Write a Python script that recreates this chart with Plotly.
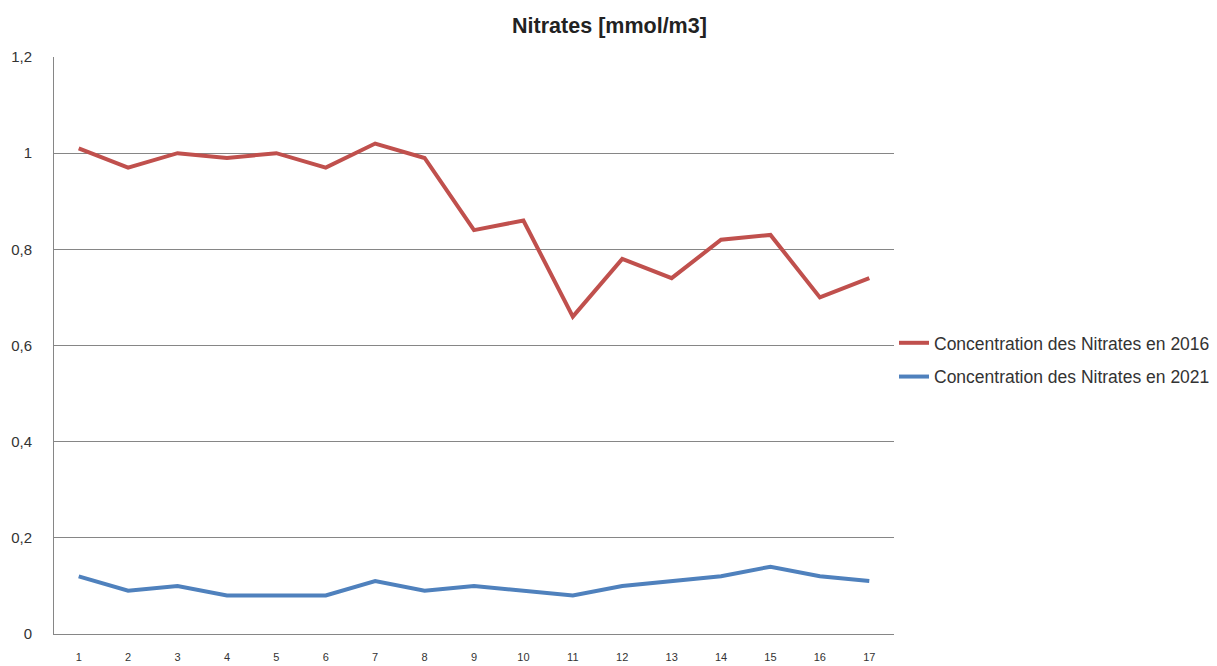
import plotly.graph_objects as go

stations = list(range(1, 18))
tick_labels = [str(s) for s in stations]
nitrates_2016 = [1.01, 0.97, 1.00, 0.99, 1.00, 0.97, 1.02, 0.99, 0.84, 0.86, 0.66, 0.78, 0.74, 0.82, 0.83, 0.70, 0.74]
nitrates_2021 = [0.12, 0.09, 0.10, 0.08, 0.08, 0.08, 0.11, 0.09, 0.10, 0.09, 0.08, 0.10, 0.11, 0.12, 0.14, 0.12, 0.11]

fig = go.Figure()
fig.add_trace(go.Scatter(x=stations, y=nitrates_2016, mode="lines",
                         name="Concentration des Nitrates en 2016", legendgroup="a",
                         line=dict(color="#C0504D", width=4)))
fig.add_trace(go.Scatter(x=stations, y=nitrates_2021, mode="lines",
                         name="Concentration des Nitrates en 2021", legendgroup="b",
                         line=dict(color="#4F81BD", width=4)))

fig.update_layout(
    width=1209, height=658,
    margin=dict(l=46, r=323, t=49, b=32, autoexpand=False),
    paper_bgcolor="white", plot_bgcolor="white",
    separators=", ",
    font=dict(family="Liberation Sans, Arial, sans-serif", color="#333333"),
    title=dict(text="<b>Nitrates [mmol/m3]</b>", x=0.4975, xanchor="center",
               yref="container", y=0.974, yanchor="middle", font=dict(size=21.5, color="#222222")),
    showlegend=True,
    legend=dict(x=1.0, xanchor="left", y=0.475, yanchor="middle",
                font=dict(size=17.5, color="#333333"), bgcolor="rgba(0,0,0,0)",
                itemwidth=30, tracegroupgap=8),
    xaxis=dict(range=[0.5, 17.5], tickmode="array", tickvals=stations, ticktext=tick_labels,
               showgrid=False, showline=True, linecolor="#868686", linewidth=1, automargin=False,
               ticks="", ticklabelstandoff=13, tickfont=dict(size=11, color="#333333"), zeroline=False),
    yaxis=dict(range=[0, 1.2], dtick=0.2, tick0=0, showgrid=True, gridcolor="#868686",
               gridwidth=1, showline=True, linecolor="#868686", linewidth=1, automargin=False,
               ticks="", ticklabelstandoff=18, tickfont=dict(size=15, color="#333333"),
               zeroline=False),
)

fig.write_html("out.html")
